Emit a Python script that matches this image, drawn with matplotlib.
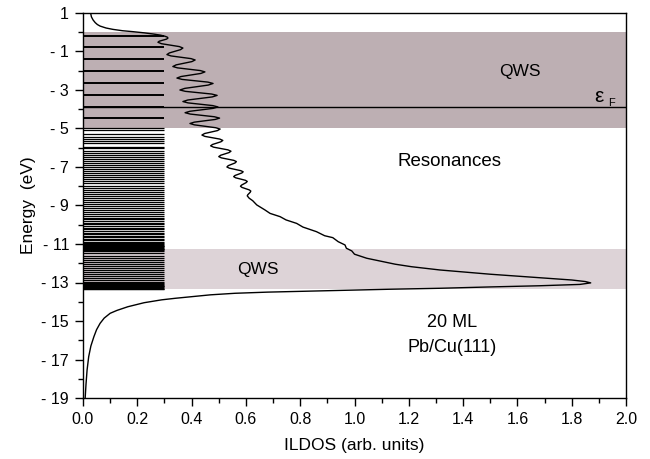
import matplotlib
matplotlib.use("Agg")
import matplotlib.pyplot as plt
from matplotlib.ticker import MultipleLocator, FixedLocator

plt.rcParams['font.family'] = ['Liberation Sans', 'DejaVu Sans']

# Integrated local density of states vs energy
curve_E = [1.0, 0.8, 0.64, 0.5, 0.4, 0.32, 0.22, 0.15, 0.08, 0.03, -0.03, -0.09, -0.15, -0.2, -0.25,
           -0.30, -0.355, -0.41, -0.465,
           -0.52, -0.595, -0.67, -0.745,
           -0.82, -0.905, -0.99, -1.075,
           -1.16, -1.23, -1.30, -1.37,
           -1.44, -1.525, -1.61, -1.695,
           -1.78, -1.85, -1.92, -1.99,
           -2.06, -2.14, -2.22, -2.30,
           -2.38, -2.45, -2.52, -2.59,
           -2.66, -2.745, -2.83, -2.915,
           -3.0, -3.07, -3.14, -3.21,
           -3.28, -3.36, -3.44, -3.52,
           -3.6, -3.67, -3.74, -3.81,
           -3.88, -3.955, -4.03, -4.105,
           -4.18, -4.25, -4.32, -4.39,
           -4.46, -4.53, -4.60, -4.67,
           -4.74, -4.81, -4.885, -4.96,
           -5.03, -5.11, -5.185, -5.26,
           -5.34, -5.41, -5.48, -5.55,
           -5.62, -5.69, -5.76, -5.83,
           -5.9, -5.97, -6.04, -6.11,
           -6.18, -6.25, -6.32, -6.39,
           -6.46, -6.525, -6.59, -6.655,
           -6.72, -6.79, -6.86, -6.93,
           -7.0, -7.06, -7.125, -7.19,
           -7.25, -7.31, -7.375, -7.44,
           -7.5, -7.56, -7.625, -7.69,
           -7.75, -7.81, -7.875, -7.94,
           -8.0, -8.06, -8.125, -8.19,
           -8.25, -8.31, -8.375, -8.44,
           -8.5, -8.62, -8.75, -8.97, -9.23, -9.41, -9.58, -9.75, -9.93, -10.12,
           -10.36, -10.57, -10.67, -10.88, -11.05, -11.22, -11.36, -11.53, -11.74, -11.92,
           -12.05, -12.18, -12.35, -12.57, -12.75, -12.87, -12.95, -13.02, -13.1, -13.17,
           -13.23, -13.3, -13.35, -13.4, -13.45, -13.5, -13.56, -13.64, -13.73, -13.82,
           -13.9, -14.05, -14.26, -14.45, -14.6, -14.85, -15.12, -15.45, -15.82, -16.3,
           -16.85, -17.55, -18.3, -19.0]
curve_v = [0.028, 0.031, 0.037, 0.045, 0.053, 0.063, 0.085, 0.11, 0.145, 0.184, 0.225, 0.258, 0.285, 0.30, 0.31,
           0.313, 0.308, 0.2945, 0.281,
           0.276, 0.289, 0.322, 0.355,
           0.368, 0.359, 0.3385, 0.318,
           0.309, 0.324, 0.361, 0.398,
           0.413, 0.401, 0.372, 0.343,
           0.331, 0.348, 0.39, 0.432,
           0.449, 0.434, 0.3975, 0.361,
           0.346, 0.365, 0.4125, 0.46,
           0.479, 0.461, 0.418, 0.375,
           0.357, 0.377, 0.4255, 0.474,
           0.494, 0.476, 0.431, 0.386,
           0.368, 0.387, 0.4325, 0.478,
           0.497, 0.479, 0.4365, 0.394,
           0.376, 0.395, 0.4395, 0.484,
           0.503, 0.487, 0.4485, 0.41,
           0.394, 0.41, 0.4495, 0.489,
           0.505, 0.495, 0.4715, 0.448,
           0.438, 0.449, 0.4765, 0.504,
           0.515, 0.508, 0.4925, 0.477,
           0.47, 0.481, 0.5075, 0.534,
           0.545, 0.538, 0.5225, 0.507,
           0.50, 0.5095, 0.5325, 0.5555,
           0.565, 0.56, 0.5475, 0.535,
           0.53, 0.539, 0.56, 0.581,
           0.59, 0.585, 0.5725, 0.56,
           0.555, 0.562, 0.58, 0.598,
           0.605, 0.601, 0.5925, 0.584,
           0.58, 0.5855, 0.599, 0.6125,
           0.618, 0.616, 0.6115, 0.607,
           0.605, 0.612, 0.625, 0.64, 0.67, 0.689, 0.726, 0.748, 0.787, 0.81,
           0.86, 0.89, 0.92, 0.94, 0.965, 0.97, 0.99, 1.0, 1.045, 1.105,
           1.15, 1.21, 1.315, 1.50, 1.68, 1.80, 1.85, 1.87, 1.83, 1.68,
           1.50, 1.315, 1.13, 0.98, 0.82, 0.68, 0.56, 0.47, 0.405, 0.34,
           0.29, 0.225, 0.165, 0.125, 0.10, 0.078, 0.063, 0.05, 0.04, 0.029,
           0.021, 0.015, 0.011, 0.008]

# Quantum-well state energies (eV)
qws_levels = [-0.19, -0.78, -1.39, -2.0, -2.62, -3.26, -3.88, -4.47]
resonance_levels = [-5.0, -5.08, -5.30, -5.43, -5.55, -5.65, -5.77, -5.95, -6.03, -6.15, -6.26,
                    -6.38, -6.46, -6.59, -6.67, -6.81, -6.90, -6.98, -7.12, -7.21, -7.30,
                    -7.42, -7.54, -7.64, -7.73, -7.85, -7.97, -8.09, -8.20, -8.28, -8.40,
                    -8.51, -8.59, -8.72, -8.82, -8.92, -9.03, -9.13, -9.24, -9.34, -9.44,
                    -9.55, -9.63, -9.72, -9.81, -9.89, -9.98, -10.07, -10.15, -10.24, -10.33,
                    -10.41, -10.50, -10.59, -10.66, -10.72, -10.79, -10.88, -10.96, -11.0,
                    -11.04, -11.08, -11.12, -11.16, -11.2, -11.24, -11.28, -11.32, -11.36,
                    -11.49, -11.61, -11.71, -11.83, -11.92, -12.04, -12.14, -12.27, -12.35,
                    -12.46, -12.56, -12.66, -12.77, -12.87, -12.98, -13.04, -13.08, -13.12,
                    -13.16, -13.2, -13.24, -13.28, -13.32, -13.36]
level_extent = 0.3

fermi_level = -3.9
upper_band = (-5.0, 0.0)
lower_band = (-13.36, -11.28)

fig = plt.figure(figsize=(6.5, 4.59), dpi=100)
ax = fig.add_axes([83 / 650, 1 - 398 / 459, (626 - 83) / 650, (398 - 13) / 459])

ax.axhspan(*upper_band, color='#bdafb3', lw=0, zorder=0)
ax.axhspan(*lower_band, color='#ddd3d7', lw=0, zorder=0)

ax.hlines(qws_levels, 0, level_extent, colors='black', lw=1.4, zorder=2)
ax.hlines(resonance_levels, 0, level_extent, colors='black', lw=0.9, zorder=2)

ax.axhline(fermi_level, color='black', lw=1.0, zorder=2)
ax.plot(curve_v, curve_E, color='black', lw=1.0, zorder=3, solid_joinstyle='round')

ax.set_xlim(0, 2.0)
ax.set_ylim(-19, 1)

ax.xaxis.set_major_locator(MultipleLocator(0.2))
ax.xaxis.set_minor_locator(MultipleLocator(0.1))
ax.set_xticklabels([f"{t:.1f}" for t in ax.get_xticks()])

yt = list(range(1, -20, -2))
ax.yaxis.set_major_locator(FixedLocator(yt))
ax.yaxis.set_minor_locator(FixedLocator(list(range(0, -19, -2))))
ax.set_yticklabels([str(t) if t >= 0 else f"- {abs(t)}" for t in yt])

ax.tick_params(which='both', direction='out', top=False, right=False, labelsize=11.5, width=1.0)
ax.tick_params(which='major', length=6, pad=4)
ax.tick_params(which='minor', length=3.5)
for s in ax.spines.values():
    s.set_linewidth(1.0)

ax.set_xlabel('ILDOS (arb. units)', fontsize=12.5, labelpad=8)
ax.set_ylabel('Energy  (eV)', fontsize=12.5, labelpad=4)

ax.text(1.61, -2.06, 'QWS', fontsize=12.5, ha='center', va='center')
ax.text(1.90, -3.36, 'ε', fontsize=15, ha='center', va='center')
ax.text(1.935, -3.68, 'F', fontsize=8, ha='left', va='center')
ax.text(1.35, -6.74, 'Resonances', fontsize=13.5, ha='center', va='center')
ax.text(0.645, -12.35, 'QWS', fontsize=12.5, ha='center', va='center')
ax.text(1.36, -15.1, '20 ML', fontsize=13, ha='center', va='center')
ax.text(1.36, -16.4, 'Pb/Cu(111)', fontsize=13, ha='center', va='center')

fig.savefig('out.png', dpi=100)
